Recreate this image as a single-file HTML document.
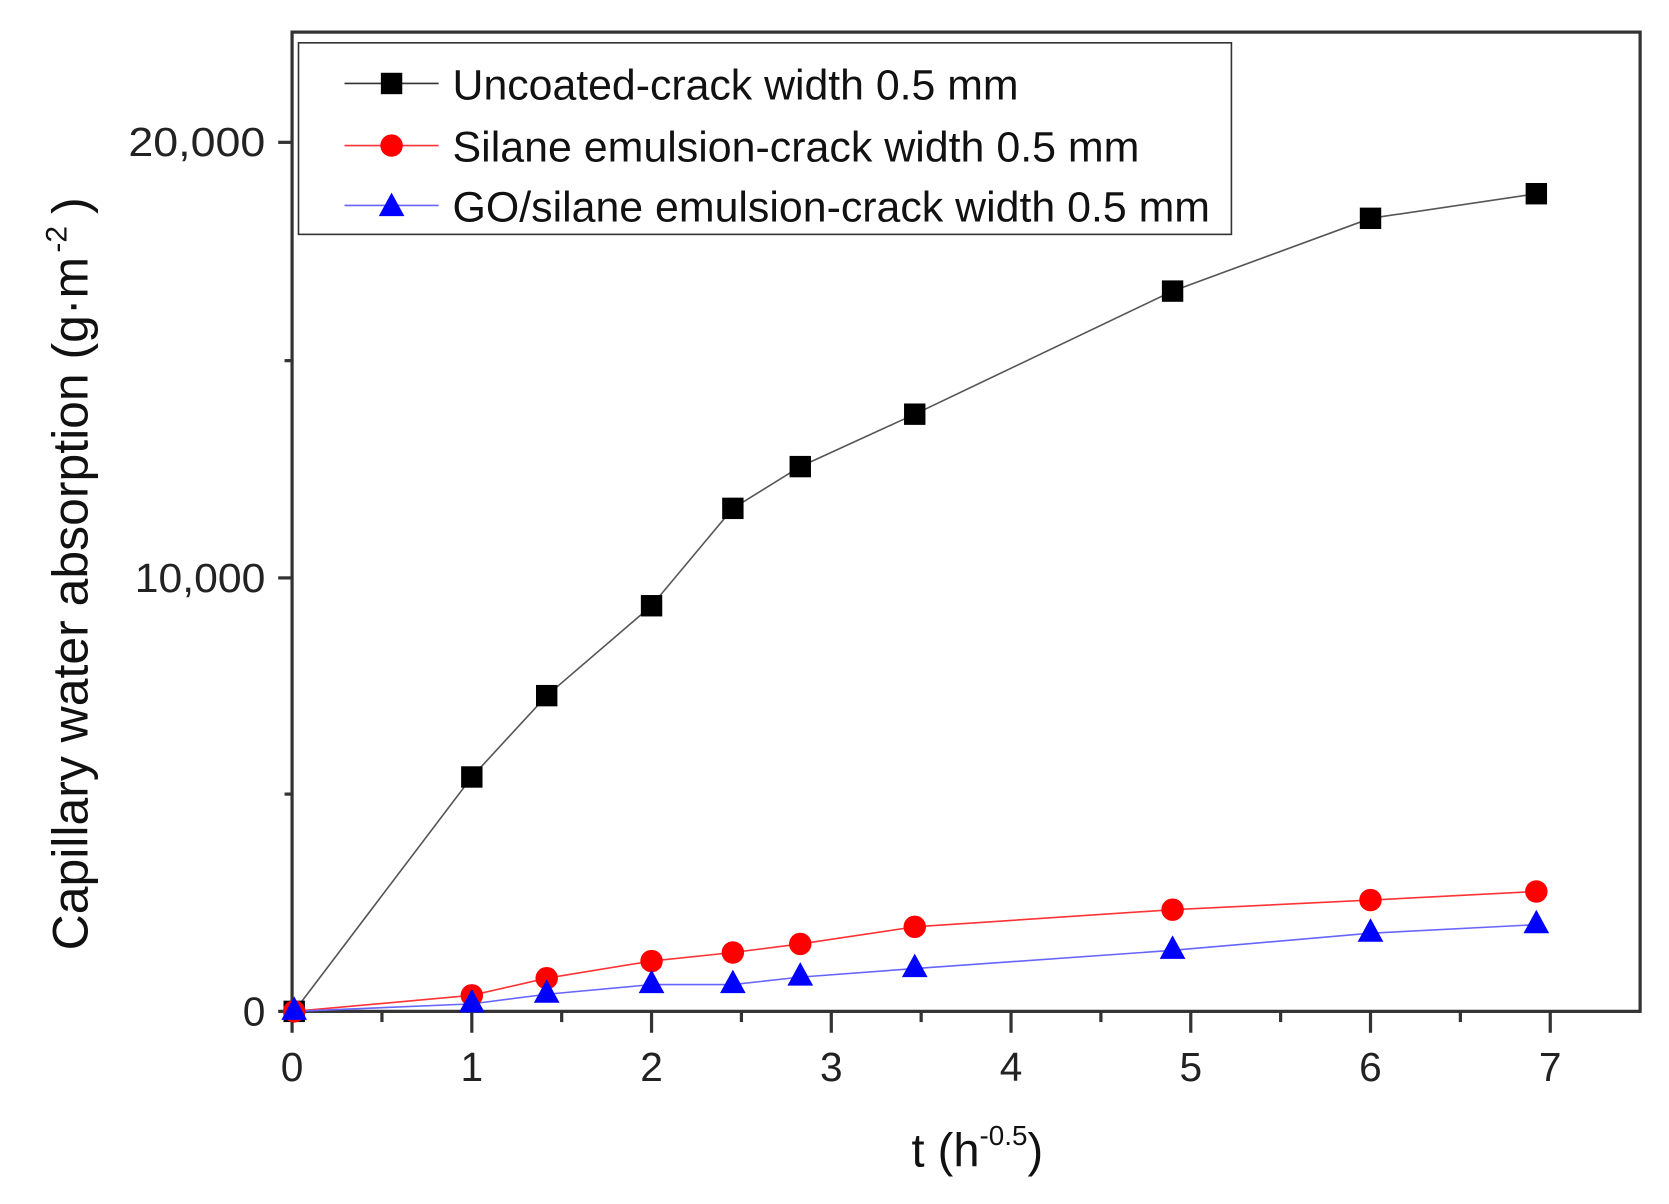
<!DOCTYPE html>
<html><head><meta charset="utf-8"><style>html,body{margin:0;padding:0;background:#fff}svg{display:block}</style></head>
<body>
<svg width="1669" height="1204" viewBox="0 0 1560 1125" preserveAspectRatio="none" xmlns="http://www.w3.org/2000/svg" font-family="Liberation Sans, sans-serif">
<defs>
<g id="sq"><rect x="-10" y="-10" width="20" height="20" fill="#000"/></g>
<g id="ci"><circle r="10.5" fill="#f00"/></g>
<g id="tr"><polygon points="0,-12 12,10 -12,10" fill="#00f"/></g>
</defs>
<rect x="273" y="30" width="1260" height="915" fill="none" stroke="#333" stroke-width="3"/>
<g stroke="#333" stroke-width="3">
<line x1="260" y1="945" x2="273" y2="945"/><line x1="260" y1="540" x2="273" y2="540"/><line x1="260" y1="133" x2="273" y2="133"/>
<line x1="266" y1="742" x2="273" y2="742"/><line x1="266" y1="337" x2="273" y2="337"/>
<line x1="273" y1="945" x2="273" y2="965"/><line x1="441" y1="945" x2="441" y2="965"/><line x1="609" y1="945" x2="609" y2="965"/><line x1="777" y1="945" x2="777" y2="965"/><line x1="945" y1="945" x2="945" y2="965"/><line x1="1113" y1="945" x2="1113" y2="965"/><line x1="1281" y1="945" x2="1281" y2="965"/><line x1="1449" y1="945" x2="1449" y2="965"/>
<line x1="357" y1="945" x2="357" y2="955"/><line x1="525" y1="945" x2="525" y2="955"/><line x1="693" y1="945" x2="693" y2="955"/><line x1="861" y1="945" x2="861" y2="955"/><line x1="1029" y1="945" x2="1029" y2="955"/><line x1="1197" y1="945" x2="1197" y2="955"/><line x1="1365" y1="945" x2="1365" y2="955"/>
</g>
<g font-size="38" fill="#222" text-anchor="end">
<text x="248" y="958">0</text><text x="248" y="553" textLength="122" lengthAdjust="spacingAndGlyphs">10,000</text><text x="248" y="146" textLength="128" lengthAdjust="spacingAndGlyphs">20,000</text>
</g>
<g font-size="38" fill="#222" text-anchor="middle">
<text x="273" y="1010">0</text><text x="441" y="1010">1</text><text x="609" y="1010">2</text><text x="777" y="1010">3</text><text x="945" y="1010">4</text><text x="1113" y="1010">5</text><text x="1281" y="1010">6</text><text x="1449" y="1010">7</text>
</g>
<text x="852" y="1090" font-size="44" fill="#111">t (h<tspan dy="-20" font-size="26">-0.5</tspan><tspan dy="20">)</tspan></text>
<text transform="translate(82,888) rotate(-90)" font-size="47" fill="#111" textLength="648" lengthAdjust="spacingAndGlyphs">Capillary water absorption (g·m</text>
<text transform="translate(62,236) rotate(-90)" font-size="28" fill="#111">-2</text>
<text transform="translate(82,200) rotate(-90)" font-size="47" fill="#111">)</text>
<polyline fill="none" stroke="#555" stroke-width="1.5" points="275,945 441,726 511,650 609,566 685,475 748,436 855,387 1096,272 1281,204 1436,181"/>
<polyline fill="none" stroke="#f33" stroke-width="1.5" points="275,945 441,930 511,914 609,898 685,890 748,882 855,866 1096,850 1281,841 1436,833"/>
<polyline fill="none" stroke="#66f" stroke-width="1.5" points="275,945 441,938 511,929 609,920 685,920 748,913 855,905 1096,888 1281,872 1436,864"/>
<g>
<use href="#sq" x="275" y="945"/><use href="#sq" x="441" y="726"/><use href="#sq" x="511" y="650"/><use href="#sq" x="609" y="566"/><use href="#sq" x="685" y="475"/><use href="#sq" x="748" y="436"/><use href="#sq" x="855" y="387"/><use href="#sq" x="1096" y="272"/><use href="#sq" x="1281" y="204"/><use href="#sq" x="1436" y="181"/>
<use href="#ci" x="275" y="945"/><use href="#ci" x="441" y="930"/><use href="#ci" x="511" y="914"/><use href="#ci" x="609" y="898"/><use href="#ci" x="685" y="890"/><use href="#ci" x="748" y="882"/><use href="#ci" x="855" y="866"/><use href="#ci" x="1096" y="850"/><use href="#ci" x="1281" y="841"/><use href="#ci" x="1436" y="833"/>
<use href="#tr" x="275" y="943"/><use href="#tr" x="441" y="936"/><use href="#tr" x="511" y="927"/><use href="#tr" x="609" y="918"/><use href="#tr" x="685" y="918"/><use href="#tr" x="748" y="911"/><use href="#tr" x="855" y="903"/><use href="#tr" x="1096" y="886"/><use href="#tr" x="1281" y="870"/><use href="#tr" x="1436" y="862"/>
</g>
<rect x="279" y="40" width="872" height="179" fill="#fff" stroke="#333" stroke-width="1.5"/>
<line x1="322" y1="78" x2="410" y2="78" stroke="#333" stroke-width="1.5"/><use href="#sq" x="366" y="78"/>
<line x1="322" y1="136" x2="410" y2="136" stroke="#f33" stroke-width="1.5"/><use href="#ci" x="366" y="136"/>
<line x1="322" y1="192" x2="410" y2="192" stroke="#66f" stroke-width="1.5"/><use href="#tr" x="366" y="192"/>
<g font-size="40" fill="#111">
<text x="423" y="93" textLength="529" lengthAdjust="spacingAndGlyphs">Uncoated-crack width 0.5 mm</text>
<text x="423" y="151" textLength="642" lengthAdjust="spacingAndGlyphs">Silane emulsion-crack width 0.5 mm</text>
<text x="423" y="207" textLength="708" lengthAdjust="spacingAndGlyphs">GO/silane emulsion-crack width 0.5 mm</text>
</g>
</svg>
</body></html>
